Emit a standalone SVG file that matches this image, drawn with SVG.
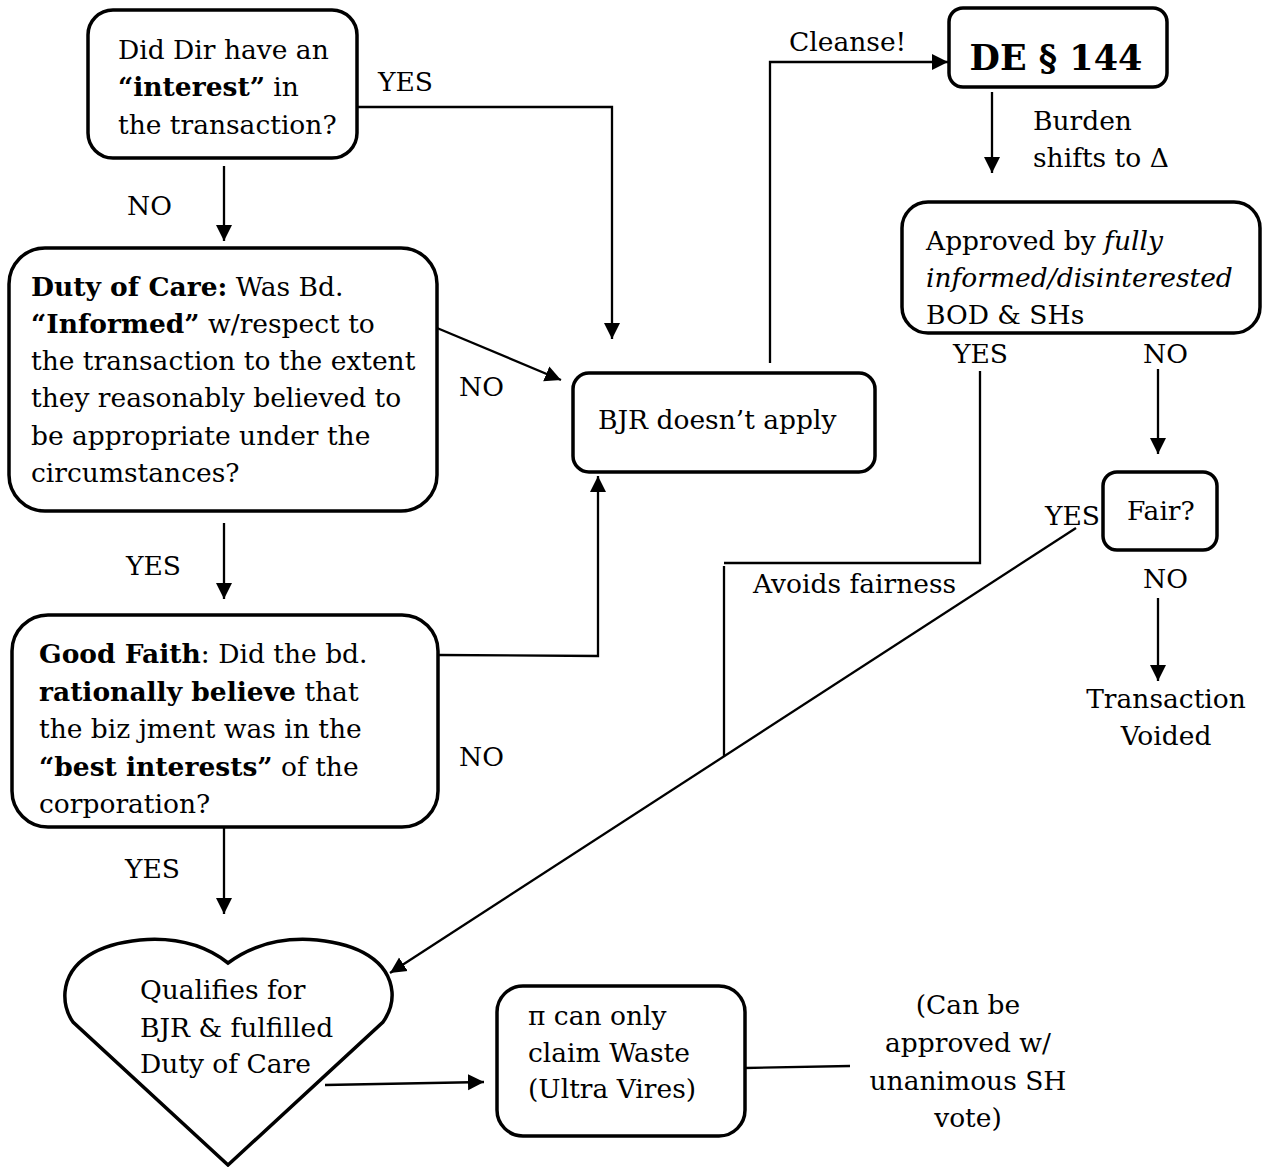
<svg xmlns="http://www.w3.org/2000/svg" width="1269" height="1167" viewBox="0 0 1269 1167">
<style>
text{font-family:"DejaVu Serif","Liberation Serif",serif;font-size:26.5px;fill:#000}
.b{font-weight:bold}
.i{font-style:italic}
.box{fill:#fff;stroke:#000;stroke-width:3.5}
.ln{fill:none;stroke:#000;stroke-width:2.3}
.ar{marker-end:url(#ah)}
.mid{text-anchor:middle}
</style>
<defs>
<marker id="ah" markerUnits="userSpaceOnUse" markerWidth="18" markerHeight="18" viewBox="0 0 18 18" refX="16" refY="9" orient="auto">
<path d="M0,1 L16,9 L0,17 Z" fill="#000"/>
</marker>
</defs>
<rect width="1269" height="1167" fill="#fff"/>

<g id="connectors">
<polyline class="ln ar" points="357,107 612,107 612,339"/>
<line class="ln ar" x1="224" y1="166" x2="224" y2="241"/>
<line class="ln ar" x1="437" y1="328" x2="561" y2="380"/>
<line class="ln ar" x1="224" y1="523" x2="224" y2="599"/>
<polyline class="ln ar" points="438,655 598,656 598,476"/>
<line class="ln ar" x1="224" y1="827" x2="224" y2="914"/>
<polyline class="ln ar" points="770,363 770,62 948,62"/>
<line class="ln ar" x1="992" y1="92" x2="992" y2="173"/>
<line class="ln ar" x1="1158" y1="369" x2="1158" y2="454"/>
<polyline class="ln" points="980,371 980,563 724,563"/>
<line class="ln" x1="724" y1="566" x2="724" y2="757"/>
<line class="ln ar" x1="1076" y1="528" x2="390" y2="973"/>
<line class="ln ar" x1="1158" y1="598" x2="1158" y2="681"/>
<line class="ln ar" x1="325" y1="1085" x2="484" y2="1082"/>
<line class="ln" x1="745" y1="1068" x2="850" y2="1066"/>
</g>

<g id="labels">
<text x="378" y="91">YES</text>
<text x="127" y="215">NO</text>
<text x="459" y="396">NO</text>
<text x="126" y="575">YES</text>
<text x="459" y="766">NO</text>
<text x="125" y="878">YES</text>
<text x="789" y="51">Cleanse!</text>
<text x="1033" y="130">Burden</text>
<text x="1033" y="167">shifts to Δ</text>
<text x="953" y="363">YES</text>
<text x="1143" y="363">NO</text>
<text x="1045" y="525">YES</text>
<text x="1143" y="588">NO</text>
<text x="753" y="593">Avoids fairness</text>
</g>

<g id="n-interest">
<rect class="box" x="88" y="10" width="269" height="148" rx="25"/>
<text x="118" y="59">Did Dir have an</text>
<text x="118" y="96"><tspan class="b">“interest”</tspan> in</text>
<text x="118" y="134">the transaction?</text>
</g>

<g id="n-care">
<rect class="box" x="9" y="248" width="428" height="263" rx="36"/>
<text x="31" y="296"><tspan class="b">Duty of Care:</tspan> Was Bd.</text>
<text x="31" y="333"><tspan class="b">“Informed”</tspan> w/respect to</text>
<text x="31" y="370">the transaction to the extent</text>
<text x="31" y="407">they reasonably believed to</text>
<text x="31" y="445">be appropriate under the</text>
<text x="31" y="482">circumstances?</text>
</g>

<g id="n-faith">
<rect class="box" x="12" y="615" width="426" height="212" rx="36"/>
<text x="39" y="663"><tspan class="b">Good Faith</tspan>: Did the bd.</text>
<text x="39" y="701"><tspan class="b">rationally believe</tspan> that</text>
<text x="39" y="738">the biz jment was in the</text>
<text x="39" y="776"><tspan class="b">“best interests”</tspan> of the</text>
<text x="39" y="813">corporation?</text>
</g>

<g id="n-bjr">
<rect class="box" x="573" y="373" width="302" height="99" rx="16"/>
<text x="598" y="429">BJR doesn’t apply</text>
</g>

<g id="n-de144">
<rect class="box" x="949" y="8" width="218" height="79" rx="14"/>
<text class="b mid" x="1056" y="70" style="font-size:35px">DE § 144</text>
</g>

<g id="n-approved">
<rect class="box" x="902" y="202" width="358" height="131" rx="26"/>
<text x="926" y="250">Approved by <tspan class="i">fully</tspan></text>
<text x="926" y="287" class="i">informed/disinterested</text>
<text x="926" y="324">BOD &amp; SHs</text>
</g>

<g id="n-fair">
<rect class="box" x="1103" y="472" width="114" height="78" rx="14"/>
<text x="1127" y="520">Fair?</text>
</g>

<g id="n-voided">
<text class="mid" x="1166" y="708">Transaction</text>
<text class="mid" x="1166" y="745">Voided</text>
</g>

<g id="n-heart">
<path class="box" d="M228,963 C205,945 175,937 140,940 C100,944 68,960 65,992 C64,1005 68,1015 73,1022 L228,1165 L383,1022 C388,1015 393,1005 392,992 C389,960 357,944 317,940 C282,937 252,945 228,963 Z"/>
<text x="140" y="999">Qualifies for</text>
<text x="140" y="1037">BJR &amp; fulfilled</text>
<text x="140" y="1073">Duty of Care</text>
</g>

<g id="n-waste">
<rect class="box" x="497" y="986" width="248" height="150" rx="26"/>
<text x="528" y="1025">π can only</text>
<text x="528" y="1062">claim Waste</text>
<text x="528" y="1098">(Ultra Vires)</text>
</g>

<g id="n-note">
<text class="mid" x="968" y="1014">(Can be</text>
<text class="mid" x="968" y="1052">approved w/</text>
<text class="mid" x="968" y="1090">unanimous SH</text>
<text class="mid" x="968" y="1127">vote)</text>
</g>
</svg>
